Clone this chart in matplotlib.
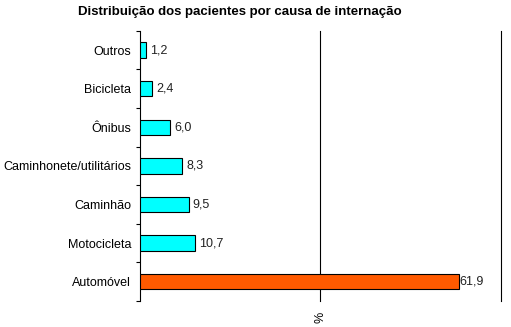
import numpy as np
import matplotlib
matplotlib.use("Agg")
import matplotlib.pyplot as plt

plt.rcParams["font.family"] = ["Liberation Sans", "DejaVu Sans"]

# dados
causas = ["Automóvel", "Motocicleta", "Caminhão", "Caminhonete/utilitários",
          "Ônibus", "Bicicleta", "Outros"]
valores = [61.9, 10.7, 9.5, 8.3, 6.0, 2.4, 1.2]
cores = ["#FF5A00", "#00FFFF", "#00FFFF", "#00FFFF", "#00FFFF", "#00FFFF", "#00FFFF"]

fig = plt.figure(figsize=(5.11, 3.27), dpi=100)
ax = fig.add_axes([0.273, 0.0795, 0.707, 0.826])

y = np.arange(len(causas))
ax.barh(y, valores, height=0.4, color=cores, edgecolor="black", linewidth=0.8, zorder=3)

for yi, v in zip(y, valores):
    dx = 0.1 if v > 50 else 0.8
    ax.text(v + dx, yi, ("%.1f" % v).replace(".", ","), va="center", ha="left",
            fontsize=9, color="#222222", zorder=4)

ax.set_xlim(0, 70)
ax.set_ylim(-0.5, len(causas) - 0.5)
ax.set_yticks(y)
ax.set_yticklabels(causas, fontsize=9)
ax.tick_params(axis="y", which="major", length=0, pad=6)
ax.set_yticks(np.arange(-0.5, len(causas), 1), minor=True)
ax.tick_params(axis="y", which="minor", length=3, width=0.8)
ax.set_xticks([])
for g in [35, 70]:
    ax.axvline(g, color="black", linewidth=0.8, zorder=0, clip_on=False)

for s in ["top", "right", "bottom"]:
    ax.spines[s].set_visible(False)
ax.spines["left"].set_linewidth(0.8)

ax.set_xlabel("%", rotation=90, fontsize=9, labelpad=8)
fig.text(0.47, 0.962, "Distribuição dos pacientes por causa de internação",
         ha="center", va="center", fontsize=9.5, fontweight="bold")

plt.savefig("out.png", dpi=100)
